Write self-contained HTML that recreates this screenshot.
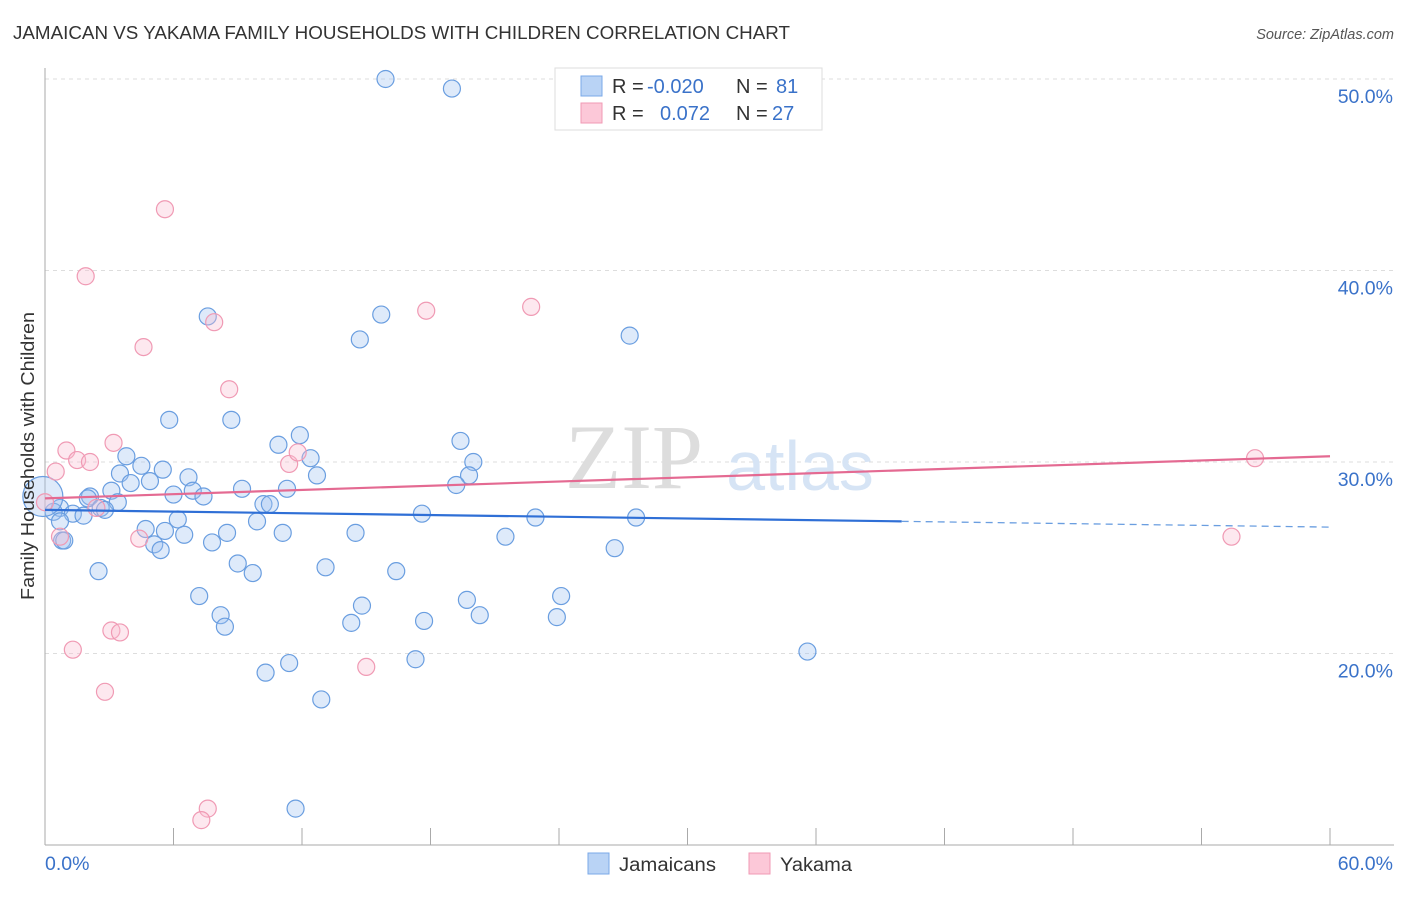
<!DOCTYPE html>
<html><head><meta charset="utf-8"><style>
body{margin:0;background:#fff;font-family:"Liberation Sans",sans-serif}
</style></head><body>
<svg width="1406" height="892" xmlns="http://www.w3.org/2000/svg" id="chart">
<text x="13" y="39" font-size="18" fill="#333" textLength="777" lengthAdjust="spacingAndGlyphs">JAMAICAN VS YAKAMA FAMILY HOUSEHOLDS WITH CHILDREN CORRELATION CHART</text>
<text x="1394" y="39" font-size="14.5" fill="#555" font-style="italic" text-anchor="end">Source: ZipAtlas.com</text>
<g id="grid"></g>
<text x="634" y="488" font-size="92" fill="#ddd" font-family="Liberation Serif" text-anchor="middle">ZIP</text>
<text x="800" y="490" font-size="70" fill="#d6e4f5" text-anchor="middle">atlas</text>
<g id="axes"></g>
<g id="pts"></g>
<g id="trend"></g>
<text x="34" y="456" font-size="18" fill="#333" text-anchor="middle" textLength="288" lengthAdjust="spacingAndGlyphs" transform="rotate(-90 34 456)">Family Households with Children</text>
<g>
<rect x="555" y="68" width="267" height="62" fill="#fff" stroke="#ddd"/>
<rect x="581" y="76" width="21" height="20" fill="#b9d3f5" stroke="#7aa8e8"/>
<rect x="581" y="103" width="21" height="20" fill="#fcc8d8" stroke="#f09ab4"/>
<text x="612" y="93" font-size="20" fill="#333">R = <tspan fill="#3a72c9" x="647">-0.020</tspan></text>
<text x="736" y="93" font-size="20" fill="#333">N = <tspan fill="#3a72c9" x="776">81</tspan></text>
<text x="612" y="120" font-size="20" fill="#333">R = <tspan fill="#3a72c9" x="660">0.072</tspan></text>
<text x="736" y="120" font-size="20" fill="#333">N = <tspan fill="#3a72c9" x="772">27</tspan></text>
</g>
<g>
<rect x="588" y="853" width="21" height="21" fill="#b9d3f5" stroke="#7aa8e8"/>
<text x="619" y="871" font-size="19" fill="#333" textLength="97" lengthAdjust="spacingAndGlyphs">Jamaicans</text>
<rect x="749" y="853" width="21" height="21" fill="#fcc8d8" stroke="#f09ab4"/>
<text x="780" y="871" font-size="19" fill="#333" textLength="72" lengthAdjust="spacingAndGlyphs">Yakama</text>
</g>
</svg>
<script>
const blueX=[15.9,19.0,7.6,15.7,14.7,27.3,5.8,8.7,19.4,11.9,10.9,12.4,3.8,4.5,20.0,3.5,5.5,6.7,12.7,4.9,19.8,4.0,9.2,11.3,19.2,3.1,6.9,2.1,6.0,7.4,2.0,3.4,10.2,10.5,0.7,1.3,2.6,2.8,0.4,1.8,0.7,4.7,5.6,6.2,9.9,17.6,22.9,27.6,8.5,6.5,11.1,14.5,21.5,0.8,5.1,5.4,7.8,26.6,9.0,9.7,13.1,16.4,2.5,7.2,14.8,19.7,24.1,8.2,8.4,14.3,17.7,20.3,23.9,35.6,17.3,11.4,10.3,12.9,11.7,0.9,-0.1];
const blueY=[50.0,49.5,37.6,37.7,36.4,36.6,32.2,32.2,31.1,31.4,30.9,30.2,30.3,29.8,30.0,29.4,29.6,29.2,29.3,29.0,29.3,28.9,28.6,28.6,28.8,28.5,28.5,28.2,28.3,28.2,28.1,27.9,27.8,27.8,27.6,27.3,27.6,27.5,27.4,27.2,26.9,26.5,26.4,27.0,26.9,27.3,27.1,27.1,26.3,26.2,26.3,26.3,26.1,25.9,25.7,25.4,25.8,25.5,24.7,24.2,24.5,24.3,24.3,23.0,22.5,22.8,23.0,22.0,21.4,21.6,21.7,22.0,21.9,20.1,19.7,19.5,19.0,17.6,11.9,25.9,28.2];
const pinkX=[5.6,1.9,4.6,7.9,17.8,22.7,8.6,1.0,3.2,1.5,2.1,11.4,11.8,0.5,56.5,0.0,2.4,4.4,0.7,55.4,3.1,3.5,1.3,2.8,15.0,7.6,7.3];
const pinkY=[43.2,39.7,36.0,37.3,37.9,38.1,33.8,30.6,31.0,30.1,30.0,29.9,30.5,29.5,30.2,27.9,27.6,26.0,26.1,26.1,21.2,21.1,20.2,18.0,19.3,11.9,11.3];
const blueTrend=[27.5,26.6];
const pinkTrend=[28.1,30.3];
const yTicks=[20,30,40,50];
const yTickLabels=["20.0%","30.0%","40.0%","50.0%"];
const xTicks=[0,6,12,18,24,30,36,42,48,54,60];
const xEdgeLabels=["0.0%","60.0%"];
const NS="http://www.w3.org/2000/svg";
const sx=v=>45+v*(1285/60);
const sy=v=>79+(50-v)*19.15;
function mk(tag,attrs,parent){const e=document.createElementNS(NS,tag);for(const k in attrs)e.setAttribute(k,attrs[k]);document.getElementById(parent).appendChild(e);return e;}
yTicks.forEach((t,i)=>{
 const l=mk('line',{x1:45,x2:1394,y1:sy(t),y2:sy(t),stroke:'#ddd','stroke-dasharray':'4 4'},'grid');
 
 
 const tx=mk('text',{x:1393,y:sy(t)+24,'font-size':19.5,fill:'#3a72c9','text-anchor':'end'},'grid');
 tx.textContent=yTickLabels[i];
 
 
});
const ax=mk('line',{x1:45,x2:45,y1:68,y2:845,stroke:'#aaa'},'axes');


const bx=mk('line',{x1:45,x2:1394,y1:845,y2:845,stroke:'#aaa'},'axes');


xTicks.forEach(t=>{
 const l=mk('line',{x1:sx(t),x2:sx(t),y1:828,y2:845,stroke:'#aaa'},'axes');
 
 
});
[[0,'start',45],[1,'end',1393]].forEach(([i,a,x])=>{
 const tx=mk('text',{x:x,y:870,'font-size':19.5,fill:'#3a72c9','text-anchor':a},'axes');
 tx.textContent=xEdgeLabels[i];
 
 
});
blueX.forEach((x,i)=>{
 const big=i===blueX.length-1;
 const c=mk('circle',{cx:sx(x),cy:sy(blueY[i]),r:big?20:8.5,fill:'rgba(160,196,240,0.35)',stroke:'#6a9ee0','stroke-width':1.2},'pts');
 
 
});
pinkX.forEach((x,i)=>{
 const c=mk('circle',{cx:sx(x),cy:sy(pinkY[i]),r:8.5,fill:'rgba(250,190,210,0.35)',stroke:'#f09ab4','stroke-width':1.2},'pts');
 
 
});
const bAt=x=>blueTrend[0]+(blueTrend[1]-blueTrend[0])*x/60;
const t1=mk('line',{x1:sx(0),y1:sy(bAt(0)),x2:sx(40),y2:sy(bAt(40)),stroke:'#2f6fd6','stroke-width':2.2},'trend');


const t2=mk('line',{x1:sx(40),y1:sy(bAt(40)),x2:sx(60),y2:sy(bAt(60)),stroke:'#6a9ee0','stroke-width':1.3,'stroke-dasharray':'7 5'},'trend');


const t3=mk('line',{x1:sx(0),y1:sy(pinkTrend[0]),x2:sx(60),y2:sy(pinkTrend[1]),stroke:'#e46a92','stroke-width':2.2},'trend');


</script>
</body></html>
